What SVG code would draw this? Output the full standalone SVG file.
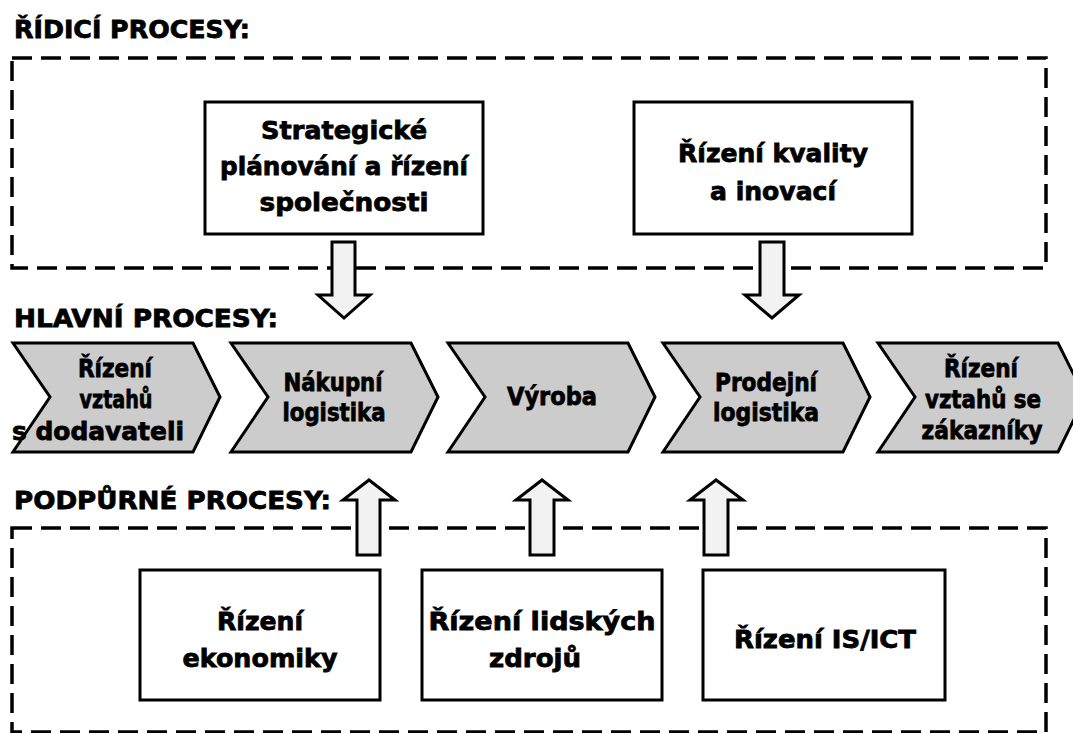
<svg xmlns="http://www.w3.org/2000/svg" width="1073" height="733" viewBox="0 0 1073 733">
<style>
text{font-family:"DejaVu Sans","Liberation Sans",sans-serif;font-weight:bold;fill:#000;stroke:#000;stroke-width:0.8;}
.h{font-size:25px;}
.t{font-size:25px;text-anchor:middle;}
.c{font-size:24px;text-anchor:middle;}
.box{fill:#fff;stroke:#000;stroke-width:3;}
.dash{fill:none;stroke:#000;stroke-width:3.5;stroke-dasharray:20 9;}
.chev{fill:#cccccc;stroke:#000;stroke-width:3;stroke-linejoin:miter;}
.arr{fill:#f2f2f2;stroke:#000;stroke-width:3;stroke-linejoin:miter;}
</style>
<rect width="1073" height="733" fill="#fff"/>

<g id="labels">
<text class="h" x="14" y="38" textLength="236" lengthAdjust="spacingAndGlyphs">ŘÍDICÍ PROCESY:</text>
<text class="h" x="14" y="327" textLength="264" lengthAdjust="spacingAndGlyphs">HLAVNÍ PROCESY:</text>
<text class="h" x="14" y="509" textLength="317" lengthAdjust="spacingAndGlyphs">PODPŮRNÉ PROCESY:</text>
</g>

<g id="ridici">
<rect class="dash" x="12" y="58" width="1034" height="210"/>
</g>
<g id="podpurne">
<rect class="dash" x="12" y="528" width="1034" height="204"/>
</g>

<g id="strategicke">
<rect class="box" x="205" y="102" width="278" height="132"/>
<text class="t" x="344" y="139" textLength="166" lengthAdjust="spacingAndGlyphs">Strategické</text>
<text class="t" x="344" y="175" textLength="248" lengthAdjust="spacingAndGlyphs">plánování a řízení</text>
<text class="t" x="344" y="211" textLength="169" lengthAdjust="spacingAndGlyphs">společnosti</text>
</g>

<g id="kvalita">
<rect class="box" x="634" y="102" width="278" height="132"/>
<text class="t" x="773" y="162" textLength="190" lengthAdjust="spacingAndGlyphs">Řízení kvality</text>
<text class="t" x="773" y="200" textLength="126" lengthAdjust="spacingAndGlyphs">a inovací</text>
</g>

<g id="dodavatele">
<path class="chev" d="M13,343 H193 L220,397 L193,452 H13 L50,397 Z"/>
<text class="c" x="115" y="377" textLength="74" lengthAdjust="spacingAndGlyphs">Řízení</text>
<text class="c" x="116" y="408" textLength="73" lengthAdjust="spacingAndGlyphs">vztahů</text>
<text class="c" x="98" y="440" textLength="172" lengthAdjust="spacingAndGlyphs">s dodavateli</text>
</g>

<g id="nakupni">
<path class="chev" d="M231,343 H411 L438,397 L411,452 H231 L268,397 Z"/>
<text class="c" x="333" y="391" textLength="99" lengthAdjust="spacingAndGlyphs">Nákupní</text>
<text class="c" x="334" y="421" textLength="103" lengthAdjust="spacingAndGlyphs">logistika</text>
</g>

<g id="vyroba">
<path class="chev" d="M448,343 H628 L655,397 L628,452 H448 L485,397 Z"/>
<text class="c" x="552" y="405" textLength="90" lengthAdjust="spacingAndGlyphs">Výroba</text>
</g>

<g id="prodejni">
<path class="chev" d="M663,343 H843 L870,397 L843,452 H663 L700,397 Z"/>
<text class="c" x="766" y="391" textLength="102" lengthAdjust="spacingAndGlyphs">Prodejní</text>
<text class="c" x="766" y="421" textLength="106" lengthAdjust="spacingAndGlyphs">logistika</text>
</g>

<g id="zakaznici">
<path class="chev" d="M878,343 H1058 L1085,397 L1058,452 H878 L915,397 Z"/>
<text class="c" x="981" y="377" textLength="74" lengthAdjust="spacingAndGlyphs">Řízení</text>
<text class="c" x="983" y="408" textLength="116" lengthAdjust="spacingAndGlyphs">vztahů se</text>
<text class="c" x="982" y="439" textLength="121" lengthAdjust="spacingAndGlyphs">zákazníky</text>
</g>

<g id="ekonomika">
<rect class="box" x="140" y="570" width="240" height="130"/>
<text class="t" x="260" y="630" textLength="86" lengthAdjust="spacingAndGlyphs">Řízení</text>
<text class="t" x="260" y="667" textLength="155" lengthAdjust="spacingAndGlyphs">ekonomiky</text>
</g>

<g id="lidske-zdroje">
<rect class="box" x="422" y="570" width="240" height="130"/>
<text class="t" x="542" y="630" textLength="227" lengthAdjust="spacingAndGlyphs">Řízení lidských</text>
<text class="t" x="535" y="667" textLength="92" lengthAdjust="spacingAndGlyphs">zdrojů</text>
</g>

<g id="is-ict">
<rect class="box" x="703" y="570" width="242" height="130"/>
<text class="t" x="825" y="648" textLength="182" lengthAdjust="spacingAndGlyphs">Řízení IS/ICT</text>
</g>

<g id="connectors">
<path class="arr" d="M332,242 H355 V295 H370 L344,318 L318,295 H332 Z"/>
<path class="arr" d="M760,242 H784 V295 H799 L772,318 L745,295 H760 Z"/>
<path class="arr" d="M357,555 H380 V500 H395 L369,480 L343,500 H357 Z"/>
<path class="arr" d="M530,555 H554 V500 H568 L542,480 L516,500 H530 Z"/>
<path class="arr" d="M704,555 H728 V500 H743 L716,480 L690,500 H704 Z"/>
</g>
</svg>
